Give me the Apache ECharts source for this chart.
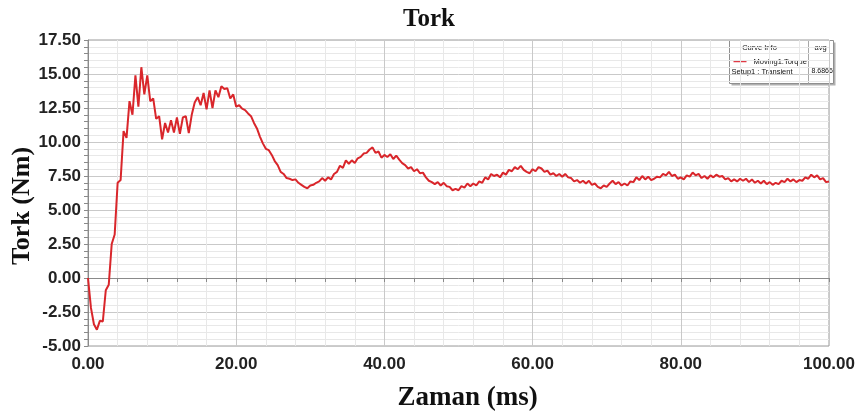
<!DOCTYPE html>
<html>
<head>
<meta charset="utf-8">
<script src="https://cdn.jsdelivr.net/npm/echarts@6/dist/echarts.min.js"></script>
<style>
  html, body { margin: 0; padding: 0; background: #fff; }
  #chart { width: 858px; height: 417px; }
</style>
</head>
<body>
<div id="chart"></div>
<script>
// Moving1.Torque, transient solution: torque (Nm) sampled every 0.4 ms from 0 to 100 ms
const sampleStepMs = 0.4;
const torqueNm = [
  0.0, -2.2, -3.4, -3.8, -3.15, -3.2, -0.9, -0.5, 2.5, 3.2,
  7.0, 7.2, 10.8, 10.3, 13.0, 12.0, 14.9, 12.6, 15.5, 13.5,
  14.9, 13.0, 13.2, 11.7, 11.9, 10.2, 11.4, 10.7, 11.6, 10.7,
  11.8, 10.6, 11.8, 11.9, 10.65, 12.0, 12.9, 13.3, 12.7, 13.6,
  12.4, 13.8, 12.5, 13.8, 13.3, 14.1, 13.9, 13.95, 13.2, 13.5,
  12.6, 12.7, 12.45, 12.35, 12.1, 11.9, 11.4, 11.0, 10.4, 9.9,
  9.5, 9.4, 9.05, 8.6, 8.3, 7.8, 7.65, 7.35, 7.3, 7.2,
  7.25, 7.0, 6.85, 6.7, 6.6, 6.8, 6.85, 7.0, 7.1, 7.35,
  7.15, 7.4, 7.25, 7.65, 7.8, 8.25, 8.1, 8.65, 8.4, 8.65,
  8.45, 8.8, 8.9, 9.15, 9.2, 9.45, 9.6, 9.2, 9.3, 8.85,
  9.05, 8.9, 9.1, 8.75, 9.0, 8.7, 8.45, 8.3, 8.05, 8.15,
  7.85, 8.0, 7.7, 7.75, 7.4, 7.15, 7.05, 6.9, 7.05, 6.8,
  7.0, 6.75, 6.7, 6.45, 6.55, 6.45, 6.75, 6.65, 6.95, 6.75,
  6.95, 6.8, 7.1, 7.0, 7.4, 7.25, 7.65, 7.5, 7.6, 7.4,
  7.75, 7.6, 7.95, 7.85, 8.15, 8.0, 8.25, 7.95, 7.8, 7.7,
  8.0, 7.85, 8.15, 8.05, 7.8, 7.9, 7.6, 7.7, 7.5, 7.65,
  7.45, 7.65, 7.4, 7.35, 7.1, 7.2, 7.0, 7.15, 6.95, 7.15,
  6.85, 6.95, 6.7, 6.6, 6.8, 6.7, 6.95, 7.15, 6.9, 7.05,
  6.8, 6.95, 6.8, 7.1, 7.05, 7.4, 7.2, 7.5, 7.25, 7.45,
  7.2, 7.3, 7.45, 7.4, 7.65, 7.55, 7.8, 7.5, 7.6, 7.3,
  7.4, 7.25, 7.55, 7.45, 7.75, 7.55, 7.65, 7.35, 7.5, 7.3,
  7.55, 7.4, 7.6, 7.45, 7.5, 7.25, 7.35, 7.1, 7.25, 7.1,
  7.3, 7.15, 7.3, 7.05, 7.25, 7.0, 7.15, 6.95, 7.15, 6.9,
  7.05, 6.85, 7.0, 6.9, 7.15, 7.05, 7.3, 7.1, 7.25, 7.05,
  7.2, 7.15, 7.4, 7.3, 7.6, 7.4, 7.55, 7.25, 7.35, 7.05,
  7.1
];

// Axis ranges and labelled ticks
const xRange = [0, 100];
const xLabelTicks = [0, 20, 40, 60, 80, 100];
const yRange = [-5, 17.5];
const yLabelTicks = [-5, -2.5, 0, 2.5, 5, 7.5, 10, 12.5, 15, 17.5];

// Curve info table
const curveName = 'Moving1.Torque';
const setupName = 'Setup1 : Transient';
const curveAvg = '8.6866';

const points = torqueNm.map((v, i) => [+(i * sampleStepMs).toFixed(1), v]);

const isLabelled = (list, v) => list.some(t => Math.abs(t - v) < 1e-6);

const sans = 'Liberation Sans, Arial, sans-serif';
const serif = 'Liberation Serif, Times New Roman, serif';
const majorGrid = '#c9c9c9';
const minorGrid = '#e8e8e8';

const chart = echarts.init(document.getElementById('chart'), null, { renderer: 'canvas' });

chart.setOption({
  animation: false,
  backgroundColor: '#ffffff',
  title: {
    text: 'Tork',
    left: 'center',
    top: 2,
    textStyle: { fontFamily: serif, fontWeight: 'bold', fontSize: 25, color: '#111' }
  },
  grid: {
    left: 88, right: 28, top: 40, bottom: 68,
    show: true, borderColor: '#9a9a9a', borderWidth: 1
  },
  xAxis: {
    type: 'value',
    min: xRange[0], max: xRange[1], interval: 4,
    name: 'Zaman (ms)',
    nameLocation: 'middle',
    nameGap: 39,
    nameTextStyle: { fontFamily: serif, fontWeight: 'bold', fontSize: 27, color: '#111', padding: [0, 0, 0, 18] },
    axisLine: { show: true, lineStyle: { color: '#8a8a8a', width: 1 } },
    axisTick: { show: true, length: 4, lineStyle: { color: '#8a8a8a' } },
    axisLabel: {
      margin: 10,
      fontFamily: sans, fontWeight: 'bold', fontSize: 17, color: '#222',
      formatter: v => isLabelled(xLabelTicks, v) ? v.toFixed(2) : ''
    },
    splitLine: { show: true, lineStyle: { color: [majorGrid, minorGrid, minorGrid, minorGrid, minorGrid], width: 1 } }
  },
  yAxis: {
    type: 'value',
    min: yRange[0], max: yRange[1], interval: 0.5,
    axisLine: { show: true, lineStyle: { color: '#8a8a8a', width: 1 } },
    axisTick: { show: true, length: 4, lineStyle: { color: '#8a8a8a' } },
    axisLabel: {
      margin: 7,
      fontFamily: sans, fontWeight: 'bold', fontSize: 17, color: '#222',
      formatter: v => isLabelled(yLabelTicks, v) ? v.toFixed(2) : ''
    },
    splitLine: { show: true, lineStyle: { color: [majorGrid, minorGrid, minorGrid, minorGrid, minorGrid], width: 1 } }
  },
  series: [{
    type: 'line',
    name: curveName,
    data: points,
    showSymbol: false,
    symbol: 'none',
    smooth: false,
    lineStyle: { color: '#d9262b', width: 2 }
  }],
  graphic: [
    {
      // vertical axis title
      type: 'text',
      x: 22,
      y: 206,
      rotation: Math.PI / 2,
      style: {
        text: 'Tork (Nm)',
        font: 'bold 26px ' + serif,
        fill: '#111',
        align: 'center',
        verticalAlign: 'middle'
      }
    },
    {
      // curve info table
      type: 'group',
      left: 727,
      top: 38,
      children: [
        { type: 'rect', shape: { x: 2, y: 2, width: 104, height: 43 }, style: { fill: '#b0b0b0' } },
        { type: 'rect', shape: { x: 0, y: 0, width: 104, height: 43 }, style: { fill: '#ffffff', stroke: '#8f8f8f', lineWidth: 1 } },
        { type: 'line', shape: { x1: 0, y1: 13, x2: 104, y2: 13 }, style: { stroke: '#a8a8a8', lineWidth: 1 } },
        { type: 'line', shape: { x1: 79, y1: 0, x2: 79, y2: 43 }, style: { stroke: '#a8a8a8', lineWidth: 1 } },
        { type: 'text', style: { x: 30, y: 7, text: 'Curve Info', font: '7.5px ' + sans, fill: '#111', align: 'center', verticalAlign: 'middle' } },
        { type: 'text', style: { x: 91, y: 7, text: 'avg', font: '7.5px ' + sans, fill: '#111', align: 'center', verticalAlign: 'middle' } },
        { type: 'line', shape: { x1: 4, y1: 21, x2: 17, y2: 21 }, style: { stroke: '#e03a45', lineWidth: 1.5 } },
        { type: 'text', style: { x: 24, y: 21, text: curveName, font: '7.5px ' + sans, fill: '#111', align: 'left', verticalAlign: 'middle' } },
        { type: 'text', style: { x: 2, y: 31, text: setupName, font: '7.5px ' + sans, fill: '#111', align: 'left', verticalAlign: 'middle' } },
        { type: 'text', style: { x: 82, y: 31, text: curveAvg, font: '7px ' + sans, fill: '#111', align: 'left', verticalAlign: 'middle' } }
      ]
    }
  ]
});
</script>
</body>
</html>
